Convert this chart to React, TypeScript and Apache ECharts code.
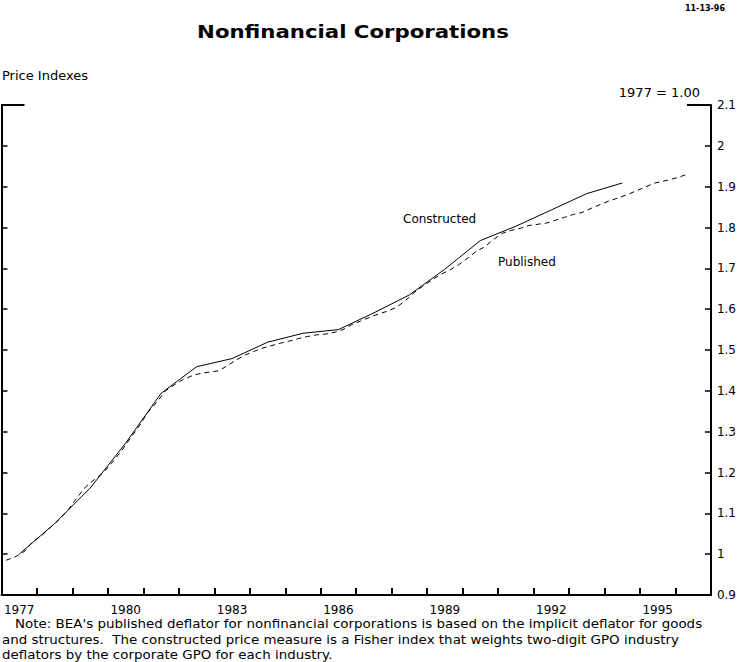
import React, { useEffect, useRef } from 'react';
import * as echarts from 'echarts';

// annual constructed index, plotted at mid-year
const constructedYears = [1977, 1978, 1979, 1980, 1981, 1982, 1983, 1984, 1985, 1986, 1987, 1988, 1989, 1990, 1991, 1992, 1993, 1994];
const constructed = [1.0, 1.075, 1.162, 1.272, 1.394, 1.459, 1.479, 1.519, 1.541, 1.55, 1.591, 1.635, 1.698, 1.768, 1.803, 1.843, 1.883, 1.909];

// quarterly published deflator, 1977Q1 - 1996Q2
const publishedStart = 1977;
const published = [
  0.985, 0.993, 1.005, 1.03,
  1.045, 1.065, 1.085, 1.108,
  1.138, 1.165, 1.183, 1.2,
  1.225, 1.252, 1.283, 1.313,
  1.347, 1.372, 1.4, 1.415,
  1.428, 1.437, 1.443, 1.446,
  1.449, 1.462, 1.476, 1.488,
  1.497, 1.505, 1.511, 1.517,
  1.522, 1.528, 1.533, 1.537,
  1.539, 1.543, 1.55, 1.562,
  1.571, 1.58, 1.588, 1.595,
  1.604, 1.62, 1.64, 1.656,
  1.671, 1.685, 1.695, 1.708,
  1.724, 1.741, 1.753, 1.771,
  1.786, 1.793, 1.798, 1.805,
  1.808, 1.811, 1.818, 1.825,
  1.832, 1.837, 1.847, 1.856,
  1.865, 1.872, 1.88, 1.889,
  1.898, 1.908, 1.913, 1.918,
  1.924, 1.932,
];

const yearLabels = ['1977', '1978', '1979', '1980', '1981', '1982', '1983', '1984', '1985', '1986', '1987', '1988', '1989', '1990', '1991', '1992', '1993', '1994', '1995', '1996'];

const noteLines = [
  "Note: BEA's published deflator for nonfinancial corporations is based on the implicit deflator for goods",
  'and structures.  The constructed price measure is a Fisher index that weights two-digit GPO industry',
  'deflators by the corporate GPO for each industry.',
];

const FONT = '"DejaVu Sans", sans-serif';

const App: React.FC = () => {
  const chartRef = useRef<HTMLDivElement>(null);

  useEffect(() => {
    document.body.style.margin = '0';
    if (!chartRef.current) return;
    const chart = echarts.init(chartRef.current, undefined, { renderer: 'svg' });

    const constructedData = constructedYears.map((y, i) => [y + 0.5, constructed[i]]);
    const publishedData = published.map((v, i) => [publishedStart + (i + 0.5) / 4, v]);

    chart.setOption({
      animation: false,
      backgroundColor: '#fff',
      grid: { left: 1.5, right: 27, top: 105, bottom: 67 },
      xAxis: [
        {
          type: 'value',
          min: 1977,
          max: 1997,
          interval: 1,
          axisLine: { lineStyle: { color: '#000', width: 2 } },
          axisTick: { inside: true, length: 7, lineStyle: { color: '#000', width: 2 } },
          axisLabel: { show: false },
          splitLine: { show: false },
        },
        {
          type: 'category',
          data: yearLabels,
          position: 'bottom',
          boundaryGap: true,
          axisLine: { show: false },
          axisTick: { show: false },
          axisLabel: { interval: 2, color: '#000', fontSize: 12, fontFamily: FONT, margin: 9 },
        },
      ],
      yAxis: [
        {
          type: 'value',
          position: 'right',
          min: 0.9,
          max: 2.1,
          interval: 0.1,
          axisLine: { show: true, lineStyle: { color: '#000', width: 2 } },
          axisTick: { show: true, inside: true, length: 6, lineStyle: { color: '#000', width: 1.5 } },
          axisLabel: { color: '#000', fontSize: 12, fontFamily: FONT, margin: 6 },
          splitLine: { show: false },
        },
        {
          type: 'value',
          position: 'left',
          min: 0.9,
          max: 2.1,
          interval: 0.1,
          axisLine: { show: true, lineStyle: { color: '#000', width: 2 } },
          axisTick: { show: true, inside: true, length: 6, lineStyle: { color: '#000', width: 1.5 } },
          axisLabel: { show: false },
          splitLine: { show: false },
        },
      ],
      series: [
        {
          name: 'Constructed',
          type: 'line',
          data: constructedData,
          symbol: 'none',
          lineStyle: { color: '#000', width: 1 },
        },
        {
          name: 'Published',
          type: 'line',
          data: publishedData,
          symbol: 'none',
          lineStyle: { color: '#000', width: 1, type: [5, 4] },
        },
      ],
    });

    const yTop = chart.convertToPixel({ yAxisIndex: 0 }, 2.1) as number;
    const xLeft = chart.convertToPixel({ xAxisIndex: 0 }, 1977) as number;
    const xRight = chart.convertToPixel({ xAxisIndex: 0 }, 1997) as number;

    const txt = (text: string, x: number, y: number, extra: any = {}, scaleX = 1) => ({
      type: 'text',
      x,
      y,
      scaleX,
      silent: true,
      style: {
        text,
        fill: '#000',
        font: `12px ${FONT}`,
        textVerticalAlign: 'middle',
        ...extra,
      },
    });

    chart.setOption({
      graphic: [
        {
          type: 'line',
          shape: { x1: xLeft, y1: yTop, x2: xLeft + 23, y2: yTop },
          style: { stroke: '#000', lineWidth: 2 },
        },
        {
          type: 'line',
          shape: { x1: xRight - 24, y1: yTop, x2: xRight, y2: yTop },
          style: { stroke: '#000', lineWidth: 2 },
        },
        txt('11-13-96', 725, 8, { font: `bold 8px ${FONT}`, textAlign: 'right' }),
        txt('Nonfinancial Corporations', 353, 32, { font: `bold 17px ${FONT}`, textAlign: 'center' }, 1.25),
        txt('Price Indexes', 2, 75, { font: `13px ${FONT}` }),
        txt('1977 = 1.00', 700, 92, { font: `13px ${FONT}`, textAlign: 'right' }),
        txt('Constructed', 403, 219),
        txt('Published', 498, 262),
        txt(noteLines[0], 15, 624, {}, 1.12),
        txt(noteLines[1], 2, 640, {}, 1.12),
        txt(noteLines[2], 2, 655, {}, 1.12),
      ],
    });

    return () => {
      chart.dispose();
    };
  }, []);

  return <div ref={chartRef} style={{ width: 739, height: 662 }} />;
};

export default App;
